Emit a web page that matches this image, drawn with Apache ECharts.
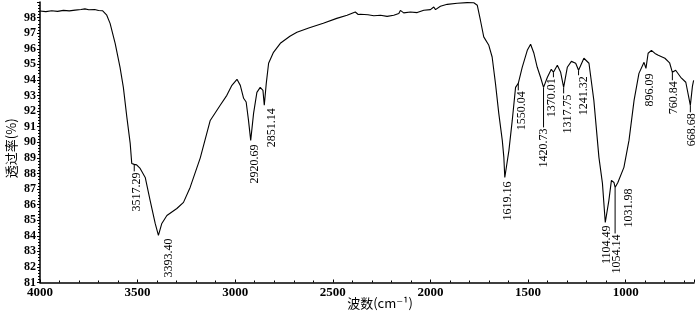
<!DOCTYPE html>
<html>
<head>
<meta charset="utf-8">
<script src="https://cdn.jsdelivr.net/npm/echarts@6/dist/echarts.min.js"></script>
<style>
html,body{margin:0;padding:0;background:#fff;}
#chart{width:700px;height:314px;}
</style>
</head>
<body>
<div id="chart"></div>
<script>
// Spectrum: wavenumber (cm-1) and transmittance (%)
const wavenumbers = [4000,3970,3940,3910,3880,3850,3820,3790,3770,3750,3720,3700,3680,3658,3641,3615,3590,3573,3555,3538,3530,3517.29,3505,3487,3461,3436,3410,3393.40,3376,3350,3299,3265,3231,3179,3128,3077,3043,3017,2991,2974,2957,2944,2932,2920.69,2906,2889,2872,2858,2851.14,2841,2829,2804,2769,2720,2684,2620,2549,2480,2427,2385,2370,2359,2320,2290,2256,2222,2188,2162,2154,2137,2103,2068,2034,2000,1983,1974,1949,1914,1863,1812,1778,1760,1744,1727,1701,1684,1667,1650,1632,1624,1619.16,1598,1581,1564,1550.04,1530,1504,1487,1470,1453,1436,1420.73,1401,1381,1370.01,1350,1333,1317.75,1299,1278,1256,1241.32,1214,1188,1163,1137,1119,1104.49,1086,1073,1060,1054.14,1040,1031.98,1009,983,957,932,906,896.09,885,868,850,833,799,775,760.84,744,718,692,668.68,658,652];
const transmittance = [98.42,98.38,98.44,98.40,98.46,98.43,98.48,98.52,98.56,98.50,98.52,98.45,98.44,98.15,97.63,96.35,94.81,93.52,91.60,89.93,88.64,88.58,88.55,88.32,87.74,86.27,84.79,84.02,84.79,85.30,85.75,86.14,87.10,89.00,91.40,92.37,93.01,93.65,94.04,93.65,92.82,92.58,91.40,90.12,91.85,93.20,93.52,93.33,92.37,93.78,95.07,95.77,96.35,96.80,97.06,97.35,97.64,97.95,98.15,98.36,98.20,98.21,98.18,98.12,98.15,98.08,98.15,98.26,98.46,98.30,98.36,98.32,98.47,98.51,98.68,98.51,98.73,98.85,98.92,98.96,98.95,98.79,97.83,96.76,96.22,95.47,93.78,91.85,90.12,89.03,87.74,89.48,91.40,93.52,93.78,94.81,95.90,96.29,95.71,94.81,94.17,93.52,94.17,94.68,94.49,94.94,94.49,93.52,94.81,95.19,95.07,94.62,95.39,95.07,92.69,89.03,87.36,84.85,86.27,87.55,87.42,87.10,87.42,87.36,88.39,90.12,92.69,94.42,95.13,94.74,95.71,95.90,95.70,95.58,95.39,95.10,94.49,94.62,94.17,93.85,92.37,93.60,93.97];

// Annotated peaks
const peakWavenumbers = [3517.29,3393.40,2920.69,2851.14,1619.16,1550.04,1420.73,1370.01,1317.75,1241.32,1104.49,1054.14,1031.98,896.09,760.84,668.68];
const peakValues = [88.58,84.02,90.12,92.37,87.74,93.78,93.52,94.49,93.52,94.62,84.85,87.10,87.36,94.74,94.49,92.37];
const peakLabels = ['3517.29','3393.40','2920.69','2851.14','1619.16','1550.04','1420.73','1370.01','1317.75','1241.32','1104.49','1054.14','1031.98','896.09','760.84','668.68'];

// Label layout (pixels): horizontal shift and gap below the point
const labelDx  = [3,10,4.5,8,3,4,0,-1.5,4,5,1.5,1.5,9,4,1,1];
const labelGap = [7,2,3,2,3,7,40,5,6,5,2,46,4,4,8,7];

// Axis ticks
const yMin = 81, yMax = 99, yStep = 1;
const xMin = 650, xMax = 4000;

const curve = wavenumbers.map((w, i) => [w, transmittance[i]]);
const peaks = peakWavenumbers.map((w, i) => [w, peakValues[i], i]);

const serif = '"Liberation Serif","DejaVu Serif",serif';
const chart = echarts.init(document.getElementById('chart'), null, {renderer: 'canvas'});
chart.setOption({
  animation: false,
  backgroundColor: '#fff',
  grid: {left: 40, right: 6, top: 2, bottom: 31.5, containLabel: false, outerBoundsMode: 'none'},
  xAxis: {
    type: 'value', inverse: true, min: xMin, max: xMax, splitNumber: 7,
    axisLine: {show: true, onZero: false, lineStyle: {color: '#000', width: 1.5}},
    axisTick: {show: true, inside: true, length: 3, lineStyle: {color: '#000', width: 1}},
    minorTick: {show: true, splitNumber: 5, length: 2, lineStyle: {color: '#000', width: 1}},
    splitLine: {show: false},
    axisLabel: {
      color: '#000', fontFamily: serif, fontWeight: 'bold', fontSize: 13, margin: 4,
      formatter: v => (v % 500 === 0 ? String(v) : '')
    },
    name: '波数(cm⁻¹)', nameLocation: 'middle', nameGap: 14, nameMoveOverlap: false,
    nameTextStyle: {color: '#000', fontFamily: '"Noto Sans CJK SC",' + serif, fontSize: 13, padding: [0, 0, 0, 26]}
  },
  yAxis: {
    type: 'value', min: yMin, max: yMax, interval: yStep,
    axisLine: {show: true, onZero: false, lineStyle: {color: '#000', width: 1.5}},
    axisTick: {show: true, length: 3, lineStyle: {color: '#000', width: 1}},
    minorTick: {show: true, splitNumber: 5, length: 2, lineStyle: {color: '#000', width: 1}},
    splitLine: {show: false},
    axisLabel: {
      color: '#000', fontFamily: serif, fontWeight: 'bold', fontSize: 12, margin: 4,
      formatter: v => (v >= yMax ? '' : String(v))
    },
    name: '透过率(%)', nameLocation: 'middle', nameGap: 22, nameRotate: 90, nameMoveOverlap: false,
    nameTextStyle: {color: '#000', fontFamily: '"Noto Sans CJK SC",' + serif, fontSize: 13, padding: [0, 12, 0, 0]}
  },
  series: [
    {
      type: 'line', data: curve, showSymbol: false, symbol: 'none',
      lineStyle: {color: '#000', width: 1.1}, clip: false, z: 2
    },
    {
      type: 'custom', data: peaks, clip: false, z: 3,
      renderItem: function (params, api) {
        const idx = api.value(2);
        const p = api.coord([api.value(0), api.value(1)]);
        const dx = labelDx[idx], gap = labelGap[idx];
        const children = [];
        if (gap >= 5) {
          children.push({
            type: 'line',
            shape: {x1: p[0], y1: p[1], x2: p[0], y2: p[1] + gap},
            style: {stroke: '#000', lineWidth: 1}
          });
        }
        children.push({
          type: 'text',
          x: p[0] + dx, y: p[1] + gap + 1, rotation: Math.PI / 2,
          style: {
            text: peakLabels[idx], x: 0, y: 0, align: 'right', verticalAlign: 'middle',
            fontSize: 12, fontFamily: serif, fill: '#000'
          }
        });
        return {type: 'group', children: children};
      }
    }
  ]
});
</script>
</body>
</html>
